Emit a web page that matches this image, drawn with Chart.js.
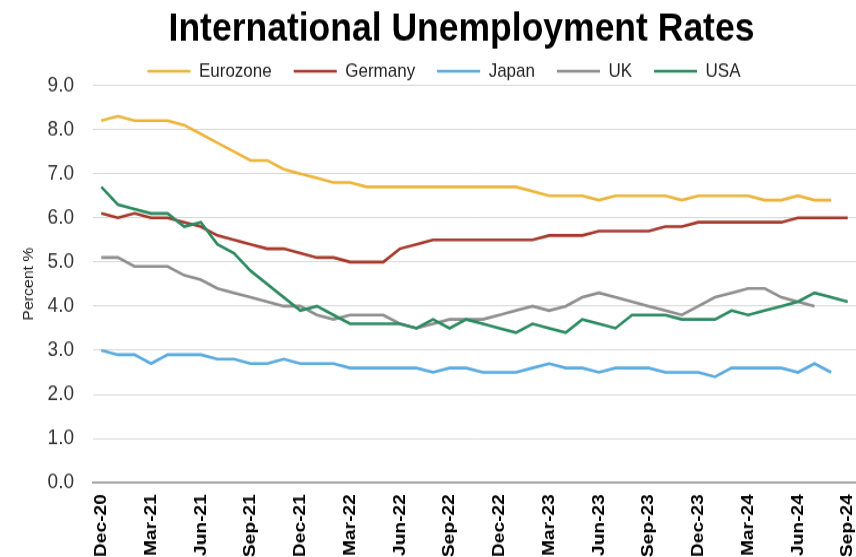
<!DOCTYPE html>
<html>
<head>
<meta charset="utf-8">
<script src="https://cdn.jsdelivr.net/npm/chart.js@4.4.1/dist/chart.umd.min.js"></script>
<style>
  html, body { margin: 0; padding: 0; background: #fff; overflow: hidden; }
  /* the reference text is stretched a little vertically, so stretch the drawing the same way */
  #wrap { position: absolute; left: 0; top: 0; width: 856px; height: 493px; transform: scale(1, 1.13); transform-origin: 0 0; }
  #chart { display: block; width: 856px; height: 493px; }
</style>
</head>
<body>
<div id="wrap"><canvas id="chart" width="856" height="493"></canvas></div>
<script>
const months = [
  "Dec-20", "Jan-21", "Feb-21", "Mar-21", "Apr-21", "May-21", "Jun-21", "Jul-21", "Aug-21", "Sep-21", "Oct-21", "Nov-21",
  "Dec-21", "Jan-22", "Feb-22", "Mar-22", "Apr-22", "May-22", "Jun-22", "Jul-22", "Aug-22", "Sep-22", "Oct-22", "Nov-22",
  "Dec-22", "Jan-23", "Feb-23", "Mar-23", "Apr-23", "May-23", "Jun-23", "Jul-23", "Aug-23", "Sep-23", "Oct-23", "Nov-23",
  "Dec-23", "Jan-24", "Feb-24", "Mar-24", "Apr-24", "May-24", "Jun-24", "Jul-24", "Aug-24", "Sep-24"
]

const eurozone = [8.2, 8.3, 8.2, 8.2, 8.2, 8.1, 7.9, 7.7, 7.5, 7.3, 7.3, 7.1,
  7.0, 6.9, 6.8, 6.8, 6.7, 6.7, 6.7, 6.7, 6.7, 6.7, 6.7, 6.7,
  6.7, 6.7, 6.6, 6.5, 6.5, 6.5, 6.4, 6.5, 6.5, 6.5, 6.5, 6.4,
  6.5, 6.5, 6.5, 6.5, 6.4, 6.4, 6.5, 6.4, 6.4, null]
const germany = [6.1, 6.0, 6.1, 6.0, 6.0, 5.9, 5.8, 5.6, 5.5, 5.4, 5.3, 5.3,
  5.2, 5.1, 5.1, 5.0, 5.0, 5.0, 5.3, 5.4, 5.5, 5.5, 5.5, 5.5,
  5.5, 5.5, 5.5, 5.6, 5.6, 5.6, 5.7, 5.7, 5.7, 5.7, 5.8, 5.8,
  5.9, 5.9, 5.9, 5.9, 5.9, 5.9, 6.0, 6.0, 6.0, 6.0]
const japan = [3.0, 2.9, 2.9, 2.7, 2.9, 2.9, 2.9, 2.8, 2.8, 2.7, 2.7, 2.8,
  2.7, 2.7, 2.7, 2.6, 2.6, 2.6, 2.6, 2.6, 2.5, 2.6, 2.6, 2.5,
  2.5, 2.5, 2.6, 2.7, 2.6, 2.6, 2.5, 2.6, 2.6, 2.6, 2.5, 2.5,
  2.5, 2.4, 2.6, 2.6, 2.6, 2.6, 2.5, 2.7, 2.5, null]
const uk = [5.1, 5.1, 4.9, 4.9, 4.9, 4.7, 4.6, 4.4, 4.3, 4.2, 4.1, 4.0,
  4.0, 3.8, 3.7, 3.8, 3.8, 3.8, 3.6, 3.5, 3.6, 3.7, 3.7, 3.7,
  3.8, 3.9, 4.0, 3.9, 4.0, 4.2, 4.3, 4.2, 4.1, 4.0, 3.9, 3.8,
  4.0, 4.2, 4.3, 4.4, 4.4, 4.2, 4.1, 4.0, null, null]
const usa = [6.7, 6.3, 6.2, 6.1, 6.1, 5.8, 5.9, 5.4, 5.2, 4.8, 4.5, 4.2,
  3.9, 4.0, 3.8, 3.6, 3.6, 3.6, 3.6, 3.5, 3.7, 3.5, 3.7, 3.6,
  3.5, 3.4, 3.6, 3.5, 3.4, 3.7, 3.6, 3.5, 3.8, 3.8, 3.8, 3.7,
  3.7, 3.7, 3.9, 3.8, 3.9, 4.0, 4.1, 4.3, 4.2, 4.1]

const yTicks = ["0.0", "1.0", "2.0", "3.0", "4.0", "5.0", "6.0", "7.0", "8.0", "9.0"]

const series = [
  { label: "Eurozone", data: eurozone, color: "#EDB43C" },
  { label: "Germany", data: germany, color: "#A53A2C" },
  { label: "Japan", data: japan, color: "#5AAAE0" },
  { label: "UK", data: uk, color: "#8E8E8E" },
  { label: "USA", data: usa, color: "#2B8A5F" }
]

const FONT = "'Liberation Sans', Arial, sans-serif"

// trim a few pixels off the bottom of the legend box,
// and nudge title / legend sideways to where the original has them
const boxTweaks = {
  id: "boxTweaks",
  beforeLayout(chart) {
    const lg = chart.legend
    if (lg && !lg._trimmed) {
      const fit = lg.fit
      lg.fit = function () { fit.call(this); this.height -= 6 }
      lg._trimmed = true
    }
  },
  afterLayout(chart) {
    const t = chart.titleBlock
    if (t) { t.left -= 13; t.right -= 13 }
    const lg = chart.legend
    if (lg) { lg.left += 16; lg.right += 16 }
  }
}

new Chart(document.getElementById("chart"), {
  type: "line",
  data: {
    labels: months,
    datasets: series.map((s, i) => ({
      label: s.label,
      data: s.data,
      borderColor: s.color,
      backgroundColor: s.color,
      borderWidth: 2.6,
      pointRadius: 0,
      tension: 0,
      order: series.length - i
    }))
  },
  plugins: [boxTweaks],
  options: {
    responsive: false,
    maintainAspectRatio: false,
    animation: false,
    plugins: {
      title: {
        display: true,
        text: "International Unemployment Rates",
        fullSize: false,
        color: "#000",
        font: { family: FONT, size: 35.5, weight: "bold", lineHeight: 1 },
        padding: { top: 8, bottom: -11 }
      },
      legend: {
        display: true,
        position: "top",
        labels: {
          usePointStyle: true,
          pointStyle: "line",
          pointStyleWidth: 43,
          boxHeight: 3,
          padding: 22,
          color: "#222",
          font: { family: FONT, size: 17 },
          sort: (a, b) => a.datasetIndex - b.datasetIndex
        }
      },
      tooltip: { enabled: false }
    },
    scales: {
      x: {
        offset: true,
        grid: { display: false, drawTicks: false },
        border: { display: true, color: "#A6A6A6", width: 2 },
        afterFit(scale) {
          scale.paddingLeft = 0
          scale.paddingRight = 0
          scale.height -= 10
        },
        ticks: {
          autoSkip: false,
          maxRotation: 90,
          minRotation: 90,
          padding: 10,
          color: "#000",
          font: { family: FONT, size: 17, weight: "bold" },
          callback: function (value, index) {
            return index % 3 === 0 ? this.getLabelForValue(value) : ""
          }
        }
      },
      y: {
        min: 0,
        max: 9,
        afterFit(scale) {
          scale.width = 93
        },
        grid: { color: "#D9D9D9", lineWidth: 1, drawTicks: false },
        border: { display: false },
        ticks: {
          stepSize: 1,
          padding: 19,
          color: "#333",
          font: { family: FONT, size: 19 },
          callback: (value) => yTicks[value]
        },
        title: {
          display: true,
          text: "Percent %",
          color: "#222",
          padding: { top: 21, bottom: 4 },
          font: { family: FONT, size: 14 }
        }
      }
    }
  }
})
</script>
</body>
</html>
